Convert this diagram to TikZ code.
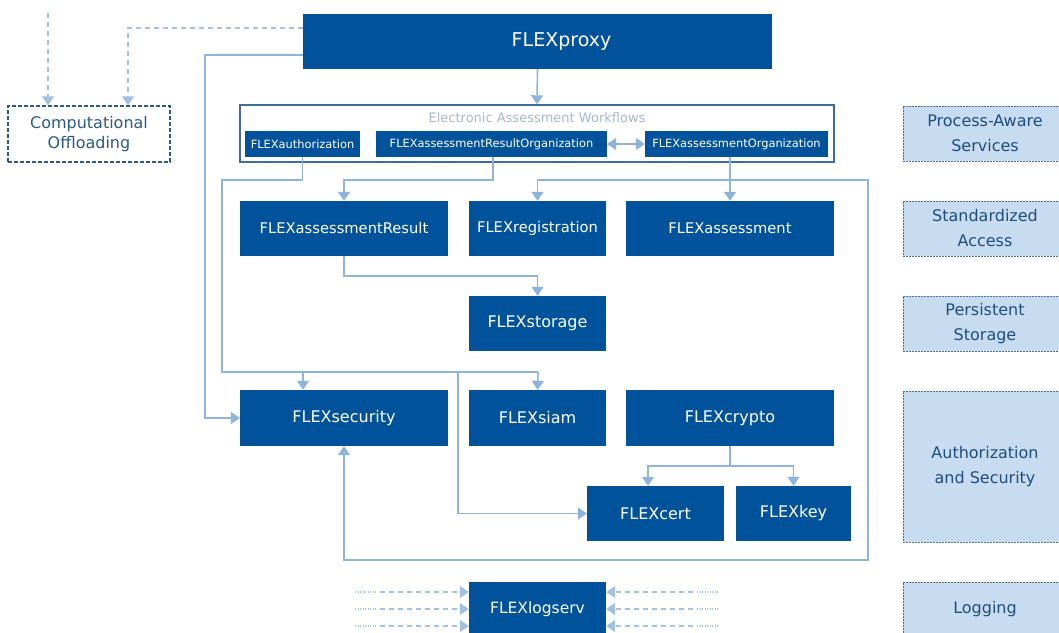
\documentclass[tikz,border=0pt]{standalone}
\usepackage{fontspec}
\setmainfont{DejaVu Sans}
\usetikzlibrary{arrows.meta,calc}
\definecolor{dblue}{HTML}{00539B}
\definecolor{cconn}{HTML}{8EB4DB}
\definecolor{lfill}{HTML}{C7DCF0}
\definecolor{lborder}{HTML}{4F7396}
\definecolor{ltext}{HTML}{1F4E7A}
\definecolor{cframe}{HTML}{3F6D99}
\definecolor{ftitle}{HTML}{A6B8CD}
\definecolor{cdash}{HTML}{A3C1E0}
\definecolor{coff}{HTML}{2E5A82}
\begin{document}
\begin{tikzpicture}[x=1pt,y=-1pt,
  box/.style={fill=dblue,text=white,inner sep=0pt,minimum height=55pt,font=\fontsize{16}{19}\selectfont},
  rowtwo/.style={font=\fontsize{14.7}{17}\selectfont},
  sbox/.style={fill=dblue,text=white,inner sep=0pt,minimum height=26pt,font=\fontsize{11.4}{13}\selectfont},
  layer/.style={fill=lfill,draw=lborder,dash pattern=on 2pt off 1pt,line width=0.9pt,text=ltext,align=center,
     inner sep=0pt,minimum width=164pt,font=\fontsize{16}{25}\selectfont},
  tip/.style={-{Triangle[length=9pt,width=12pt]}},
  btip/.style={{Triangle[length=9pt,width=12pt]}-{Triangle[length=9pt,width=12pt]}},
  link/.style={draw=cconn,line width=1.6pt},
  dlink/.style={draw=cdash,line width=1.4pt,dash pattern=on 5pt off 4pt},
  dotlink/.style={draw=cdash,line width=1.4pt,dash pattern=on 1pt off 1.5pt},
]
\useasboundingbox (0,0) rectangle (1059,632);
\clip (0,0) rectangle (1059,632);

% top
\node[box,minimum width=469pt,font=\fontsize{19}{21}\selectfont] (proxy) at (537.5,41.5) {\hspace*{48pt}FLEXproxy};
\node[draw=coff,dash pattern=on 4pt off 2pt,line width=1.2pt,fill=white,text=coff,align=center,
  minimum width=162pt,minimum height=56pt,inner sep=0pt,font=\fontsize{16}{20}\selectfont] (offl) at (89,134) {Computational\\Offloading};

% workflows frame
\node[draw=cframe,line width=1.4pt,fill=white,minimum width=594pt,minimum height=57pt,inner sep=0pt] (wf) at (537,133.5) {};
\node[text=ftitle,inner sep=0pt,font=\fontsize{13}{15}\selectfont] (wft) at (537,118) {Electronic Assessment Workflows};
\node[sbox,minimum width=115pt] (auth) at (302.5,144) {FLEXauthorization};
\node[sbox,minimum width=231pt] (aro) at (491.5,144) {FLEXassessmentResultOrganization};
\node[sbox,minimum width=183pt] (ao) at (736.5,144) {FLEXassessmentOrganization};

% row 2
\node[box,rowtwo,minimum width=208pt] (ares) at (344,228.5) {FLEXassessmentResult};
\node[box,rowtwo,minimum width=137pt] (reg) at (537.5,228.5) {FLEXregistration};
\node[box,rowtwo,minimum width=208pt] (asmt) at (730,228.5) {FLEXassessment};
% row 3
\node[box,minimum width=137pt] (stor) at (537.5,323.5) {FLEXstorage};
% row 4
\node[box,minimum width=208pt,minimum height=56pt] (sec) at (344,418) {FLEXsecurity};
\node[box,minimum width=137pt,minimum height=56pt] (siam) at (537.5,418) {FLEXsiam};
\node[box,minimum width=208pt,minimum height=56pt] (crypto) at (730,418) {FLEXcrypto};
% row 5
\node[box,minimum width=137pt] (cert) at (655.5,513.5) {FLEXcert};
\node[box,minimum width=115pt] (key) at (793.5,513.5) {FLEXkey};
% log
\node[box,minimum width=137pt,font=\fontsize{15.5}{18}\selectfont] (log) at (537.5,609.5) {FLEXlogserv};

% layers
\node[layer,minimum height=55pt] (lpas) at (985,133.5) {Process-Aware\\Services};
\node[layer,minimum height=55pt] (lsa) at (985,228.5) {Standardized\\Access};
\node[layer,minimum height=55pt] (lps) at (985,323.5) {Persistent\\Storage};
\node[layer,minimum height=151pt] (las) at (985,466.5) {Authorization\\and Security};
\node[layer,minimum height=55pt] (llog) at (985,609.5) {Logging};

% connectors
\draw[link,tip] (proxy.south) -- (wf.north);
\draw[link,tip] (proxy.west |- 0,55) -| (205,418) -- (sec.west);
\draw[dlink,tip] (proxy.west |- 0,28) -| (offl.north -| 128,0);
\coordinate (dtop) at (48,13);
\draw[dlink,tip] (dtop) -- (offl.north -| dtop);

\draw[link,btip] (aro.east) -- (ao.west);

\draw[link] (auth.south) -- (auth.south |- 0,180) -| (222,372) -- (538,372);
\draw[link,tip] (538,372) -- (siam.north);
\draw[link,tip] (303,372) -- (sec.north -| 303,0);
\draw[link,tip] (458,372) |- (cert.west);

\draw[link,tip] (aro.south -| 493,0) -- (493,180) -| (ares.north);
\draw[link,tip] (ao.south -| asmt.north) -- (asmt.north);
\draw[link,btip]
  (reg.north) -- (reg.north |- 0,180) -- (868,180) -- (868,560) -- (sec.south |- 0,560) -- (sec.south);
\draw[link,tip] (ares.south) -- (ares.south |- 0,276) -| (stor.north);

\draw[link] (crypto.south) -- (crypto.south |- 0,466);
\draw[link,tip] (crypto.south |- 0,466) -| (cert.north -| 648,0);
\draw[link,tip] (crypto.south |- 0,466) -| (key.north);

% log arrows
\foreach \yy in {592,609,626}{
  \draw[dotlink] (355,\yy) -- (377,\yy);
  \draw[dlink,tip] (380,\yy) -- (log.west |- 0,\yy);
  \draw[dotlink] (718,\yy) -- (696,\yy);
  \draw[dlink,tip] (693,\yy) -- (log.east |- 0,\yy);
}
\end{tikzpicture}
\end{document}
